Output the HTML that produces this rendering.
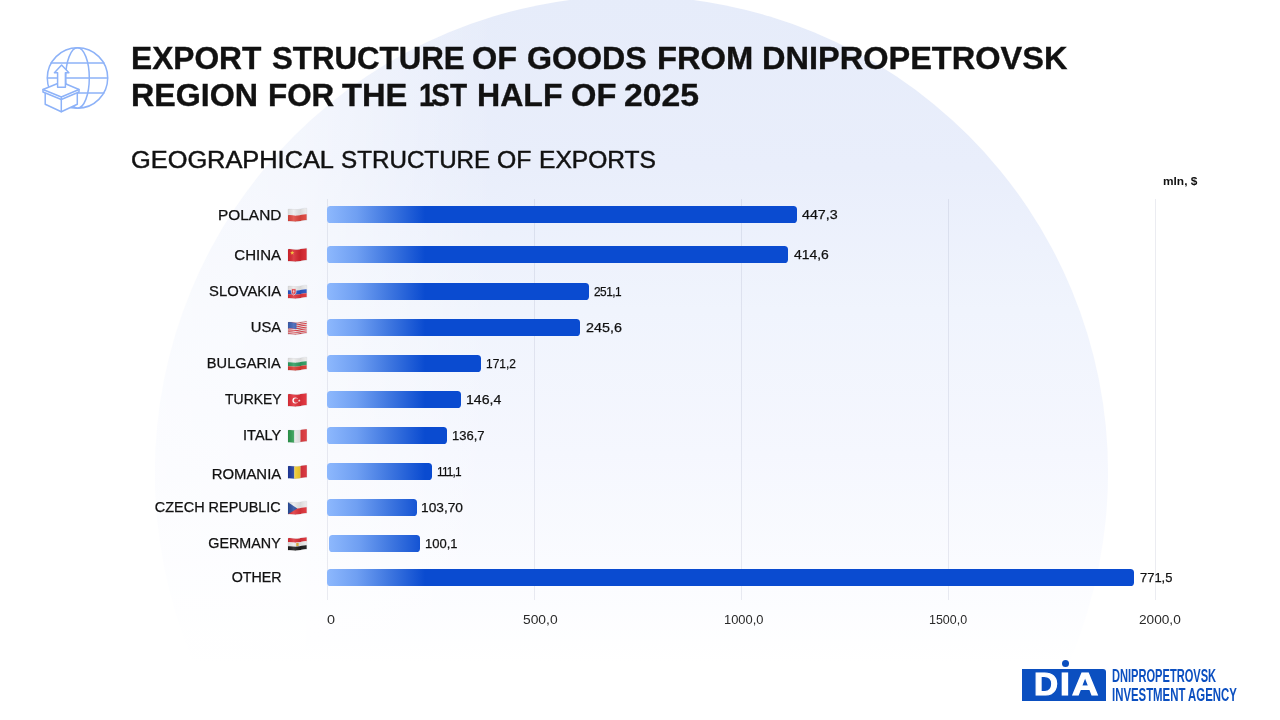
<!DOCTYPE html>
<html lang="en">
<head>
<meta charset="utf-8">
<title>Export structure of goods from Dnipropetrovsk region</title>
<style>
html,body{margin:0;padding:0;}
body{width:1280px;height:720px;position:relative;overflow:hidden;background:#fff;font-family:"Liberation Sans",sans-serif;color:#111;}
.bgcircle{position:absolute;left:154.500px;top:-4.500px;width:953px;height:953px;border-radius:50%;
  background:linear-gradient(90deg,rgba(255,255,255,.62) 0,rgba(255,255,255,.5) 150px,rgba(255,255,255,0) 340px),
  linear-gradient(180deg,#e6ecfa 0%,#e9eefb 18%,#f0f4fd 33%,#f5f7fe 48%,#fbfcff 62%,#ffffff 70%);}
.t{position:absolute;white-space:nowrap;color:#111;}
.grid{position:absolute;top:199px;width:1px;height:401px;background:rgba(120,130,160,.15);}
.bar{position:absolute;height:17.200px;border-radius:3.600px;
  background:linear-gradient(90deg,#8db8fd 0px,#6f9ff2 30px,#3f77e0 62px,#0a4bd0 98px,#0a4bd0 100%);}
.flag{position:absolute;overflow:visible;}
svg.abs{position:absolute;overflow:visible;}
.logo-box{position:absolute;left:1022.200px;top:668.800px;width:83.400px;height:31.800px;background:#0b4fc0;border-radius:0 3px 0 0;}
.logo-dot{position:absolute;left:1061.600px;top:659.800px;width:7.400px;height:7.400px;border-radius:50%;background:#0b4fc0;}
.logo-l{color:#fff;font-weight:700;font-size:30.800px;line-height:32px;-webkit-text-stroke:1.100px #fff;}
</style>
</head>
<body>
<div class="bgcircle"></div>
<svg width="0" height="0" style="position:absolute"><defs>
<linearGradient id="fsh" x1="0" y1="0" x2="1" y2="0"><stop offset="0" stop-color="#000" stop-opacity=".06"/><stop offset=".3" stop-color="#fff" stop-opacity=".12"/><stop offset=".65" stop-color="#000" stop-opacity=".08"/><stop offset="1" stop-color="#fff" stop-opacity=".05"/></linearGradient>
</defs></svg>

<!-- header icon -->
<svg class="abs" style="left:40px;top:44px" width="72" height="72" viewBox="40 44 72 72" fill="none" stroke="#8db2f8" stroke-width="1.500" stroke-linejoin="round" stroke-linecap="round">
<circle cx="77.500" cy="78" r="30.200"/>
<ellipse cx="77.500" cy="78" rx="11.800" ry="30.200"/>
<path d="M51,63.100H104M47.500,78.100H107.500M51,93.100H104"/>
<path d="M45.200,92V104.200L61.300,111.700L77.300,104.200V92Z" fill="#fff"/>
<path d="M61.300,99.500V111.700"/>
<path d="M43,89.500L61.300,82L79,89.500V92L61.300,99.500L43,92Z" fill="#fff"/>
<path d="M43,89.500L61.300,97L79,89.500M61.300,97V99.500"/>
<path d="M57.600,87.300V72.800H54.400L61.600,65.100L68.900,72.800H65.400V87.300Z" fill="#fff"/>
</svg>

<div class="grid" style="left:327px"></div>
<div class="grid" style="left:534px"></div>
<div class="grid" style="left:741px"></div>
<div class="grid" style="left:948px"></div>
<div class="grid" style="left:1155px"></div>
<div class="bar" style="left:326.7px;top:205.9px;width:470.50px"></div>
<div class="bar" style="left:326.7px;top:245.9px;width:461.30px"></div>
<div class="bar" style="left:326.7px;top:282.6px;width:262.05px"></div>
<div class="bar" style="left:326.7px;top:318.65px;width:253.80px"></div>
<div class="bar" style="left:326.7px;top:354.7px;width:154.55px"></div>
<div class="bar" style="left:326.7px;top:390.7px;width:134.55px"></div>
<div class="bar" style="left:326.7px;top:426.7px;width:120.05px"></div>
<div class="bar" style="left:326.7px;top:462.6px;width:105.80px"></div>
<div class="bar" style="left:326.7px;top:498.7px;width:90.00px"></div>
<div class="bar" style="left:328.9px;top:534.8px;width:91.60px"></div>
<div class="bar" style="left:326.7px;top:568.6px;width:807.80px"></div>
<svg class="flag" style="left:287.9px;top:208.0px" width="19" height="14" viewBox="0 0 19 14"><clipPath id="fc0"><path d="M0.00,1.20 C3.00,0.60 6.00,2.00 9.50,1.50 C13.00,1.00 15.50,-0.10 18.80,0.20 L18.80,12.30 C15.50,12.00 13.00,13.10 9.50,13.60 C6.00,14.10 3.00,12.70 0.00,13.30 Z"/></clipPath><g clip-path="url(#fc0)"><path d="M0.00,1.20 C3.00,0.60 6.00,2.00 9.50,1.50 C13.00,1.00 15.50,-0.10 18.80,0.20 L18.80,6.25 C15.50,5.95 13.00,7.05 9.50,7.55 C6.00,8.05 3.00,6.65 0.00,7.25 Z" fill="#ececec"/><path d="M0.00,7.25 C3.00,6.65 6.00,8.05 9.50,7.55 C13.00,7.05 15.50,5.95 18.80,6.25 L18.80,12.30 C15.50,12.00 13.00,13.10 9.50,13.60 C6.00,14.10 3.00,12.70 0.00,13.30 Z" fill="#e0463d"/><rect y="-1" width="19" height="16" fill="url(#fsh)"/></g><path d="M0.00,1.20 C3.00,0.60 6.00,2.00 9.50,1.50 C13.00,1.00 15.50,-0.10 18.80,0.20 L18.80,12.30 C15.50,12.00 13.00,13.10 9.50,13.60 C6.00,14.10 3.00,12.70 0.00,13.30 Z" fill="none" stroke="#000" stroke-opacity=".12" stroke-width=".5"/></svg>
<svg class="flag" style="left:287.9px;top:248.0px" width="19" height="14" viewBox="0 0 19 14"><clipPath id="fc1"><path d="M0.00,1.20 C3.00,0.60 6.00,2.00 9.50,1.50 C13.00,1.00 15.50,-0.10 18.80,0.20 L18.80,12.30 C15.50,12.00 13.00,13.10 9.50,13.60 C6.00,14.10 3.00,12.70 0.00,13.30 Z"/></clipPath><g clip-path="url(#fc1)"><path d="M0.00,1.20 C3.00,0.60 6.00,2.00 9.50,1.50 C13.00,1.00 15.50,-0.10 18.80,0.20 L18.80,12.30 C15.50,12.00 13.00,13.10 9.50,13.60 C6.00,14.10 3.00,12.70 0.00,13.30 Z" fill="#d8262f"/><path d="M4.200,2.600l.55,1.500h1.600l-1.300,1l.5,1.550l-1.350-.95l-1.350,.95l.5-1.550l-1.300-1h1.600z" fill="#f7c531"/><rect y="-1" width="19" height="16" fill="url(#fsh)"/></g><path d="M0.00,1.20 C3.00,0.60 6.00,2.00 9.50,1.50 C13.00,1.00 15.50,-0.10 18.80,0.20 L18.80,12.30 C15.50,12.00 13.00,13.10 9.50,13.60 C6.00,14.10 3.00,12.70 0.00,13.30 Z" fill="none" stroke="#000" stroke-opacity=".12" stroke-width=".5"/></svg>
<svg class="flag" style="left:287.9px;top:284.7px" width="19" height="14" viewBox="0 0 19 14"><clipPath id="fc2"><path d="M0.00,1.20 C3.00,0.60 6.00,2.00 9.50,1.50 C13.00,1.00 15.50,-0.10 18.80,0.20 L18.80,12.30 C15.50,12.00 13.00,13.10 9.50,13.60 C6.00,14.10 3.00,12.70 0.00,13.30 Z"/></clipPath><g clip-path="url(#fc2)"><path d="M0.00,1.20 C3.00,0.60 6.00,2.00 9.50,1.50 C13.00,1.00 15.50,-0.10 18.80,0.20 L18.80,4.31 C15.50,4.01 13.00,5.11 9.50,5.61 C6.00,6.11 3.00,4.71 0.00,5.31 Z" fill="#ececec"/><path d="M0.00,5.31 C3.00,4.71 6.00,6.11 9.50,5.61 C13.00,5.11 15.50,4.01 18.80,4.31 L18.80,8.31 C15.50,8.01 13.00,9.11 9.50,9.61 C6.00,10.11 3.00,8.71 0.00,9.31 Z" fill="#2a56c2"/><path d="M0.00,9.31 C3.00,8.71 6.00,10.11 9.50,9.61 C13.00,9.11 15.50,8.01 18.80,8.31 L18.80,12.30 C15.50,12.00 13.00,13.10 9.50,13.60 C6.00,14.10 3.00,12.70 0.00,13.30 Z" fill="#e0353c"/><path d="M3.400,3.700h4.600v3.600c0,1.700-2.300,2.700-2.300,2.700s-2.300-1-2.300-2.700z" fill="#e0353c" stroke="#f2f2f2" stroke-width=".7"/><path d="M5.700,5v3.600M4.700,6.300h2" stroke="#f2f2f2" stroke-width=".6" fill="none"/><rect y="-1" width="19" height="16" fill="url(#fsh)"/></g><path d="M0.00,1.20 C3.00,0.60 6.00,2.00 9.50,1.50 C13.00,1.00 15.50,-0.10 18.80,0.20 L18.80,12.30 C15.50,12.00 13.00,13.10 9.50,13.60 C6.00,14.10 3.00,12.70 0.00,13.30 Z" fill="none" stroke="#000" stroke-opacity=".12" stroke-width=".5"/></svg>
<svg class="flag" style="left:287.9px;top:320.8px" width="19" height="14" viewBox="0 0 19 14"><clipPath id="fc3"><path d="M0.00,1.20 C3.00,0.60 6.00,2.00 9.50,1.50 C13.00,1.00 15.50,-0.10 18.80,0.20 L18.80,12.30 C15.50,12.00 13.00,13.10 9.50,13.60 C6.00,14.10 3.00,12.70 0.00,13.30 Z"/></clipPath><g clip-path="url(#fc3)"><path d="M0.00,1.20 C3.00,0.60 6.00,2.00 9.50,1.50 C13.00,1.00 15.50,-0.10 18.80,0.20 L18.80,12.30 C15.50,12.00 13.00,13.10 9.50,13.60 C6.00,14.10 3.00,12.70 0.00,13.30 Z" fill="#ececec"/><path d="M0.00,1.20 C3.00,0.60 6.00,2.00 9.50,1.50 C13.00,1.00 15.50,-0.10 18.80,0.20 L18.80,1.13 C15.50,0.83 13.00,1.93 9.50,2.43 C6.00,2.93 3.00,1.53 0.00,2.13 Z" fill="#dc3b45"/><path d="M0.00,3.06 C3.00,2.46 6.00,3.86 9.50,3.36 C13.00,2.86 15.50,1.76 18.80,2.06 L18.80,2.99 C15.50,2.69 13.00,3.79 9.50,4.29 C6.00,4.79 3.00,3.39 0.00,3.99 Z" fill="#dc3b45"/><path d="M0.00,4.92 C3.00,4.32 6.00,5.72 9.50,5.22 C13.00,4.72 15.50,3.62 18.80,3.92 L18.80,4.85 C15.50,4.55 13.00,5.65 9.50,6.15 C6.00,6.65 3.00,5.25 0.00,5.85 Z" fill="#dc3b45"/><path d="M0.00,6.78 C3.00,6.18 6.00,7.58 9.50,7.08 C13.00,6.58 15.50,5.48 18.80,5.78 L18.80,6.72 C15.50,6.42 13.00,7.52 9.50,8.02 C6.00,8.52 3.00,7.12 0.00,7.72 Z" fill="#dc3b45"/><path d="M0.00,8.65 C3.00,8.05 6.00,9.45 9.50,8.95 C13.00,8.45 15.50,7.35 18.80,7.65 L18.80,8.58 C15.50,8.28 13.00,9.38 9.50,9.88 C6.00,10.38 3.00,8.98 0.00,9.58 Z" fill="#dc3b45"/><path d="M0.00,10.51 C3.00,9.91 6.00,11.31 9.50,10.81 C13.00,10.31 15.50,9.21 18.80,9.51 L18.80,10.44 C15.50,10.14 13.00,11.24 9.50,11.74 C6.00,12.24 3.00,10.84 0.00,11.44 Z" fill="#dc3b45"/><path d="M0.00,12.37 C3.00,11.77 6.00,13.17 9.50,12.67 C13.00,12.17 15.50,11.07 18.80,11.37 L18.80,12.30 C15.50,12.00 13.00,13.10 9.50,13.60 C6.00,14.10 3.00,12.70 0.00,13.30 Z" fill="#dc3b45"/><path d="M0,1.200C3,0.600 6,2 8.500,1.650V7.900C6,8.300 3,6.900 0,7.500Z" fill="#3d62b5"/><rect y="-1" width="19" height="16" fill="url(#fsh)"/></g><path d="M0.00,1.20 C3.00,0.60 6.00,2.00 9.50,1.50 C13.00,1.00 15.50,-0.10 18.80,0.20 L18.80,12.30 C15.50,12.00 13.00,13.10 9.50,13.60 C6.00,14.10 3.00,12.70 0.00,13.30 Z" fill="none" stroke="#000" stroke-opacity=".12" stroke-width=".5"/></svg>
<svg class="flag" style="left:287.9px;top:356.8px" width="19" height="14" viewBox="0 0 19 14"><clipPath id="fc4"><path d="M0.00,1.20 C3.00,0.60 6.00,2.00 9.50,1.50 C13.00,1.00 15.50,-0.10 18.80,0.20 L18.80,12.30 C15.50,12.00 13.00,13.10 9.50,13.60 C6.00,14.10 3.00,12.70 0.00,13.30 Z"/></clipPath><g clip-path="url(#fc4)"><path d="M0.00,1.20 C3.00,0.60 6.00,2.00 9.50,1.50 C13.00,1.00 15.50,-0.10 18.80,0.20 L18.80,4.31 C15.50,4.01 13.00,5.11 9.50,5.61 C6.00,6.11 3.00,4.71 0.00,5.31 Z" fill="#ececec"/><path d="M0.00,5.31 C3.00,4.71 6.00,6.11 9.50,5.61 C13.00,5.11 15.50,4.01 18.80,4.31 L18.80,8.31 C15.50,8.01 13.00,9.11 9.50,9.61 C6.00,10.11 3.00,8.71 0.00,9.31 Z" fill="#2f9e62"/><path d="M0.00,9.31 C3.00,8.71 6.00,10.11 9.50,9.61 C13.00,9.11 15.50,8.01 18.80,8.31 L18.80,12.30 C15.50,12.00 13.00,13.10 9.50,13.60 C6.00,14.10 3.00,12.70 0.00,13.30 Z" fill="#dc3a32"/><rect y="-1" width="19" height="16" fill="url(#fsh)"/></g><path d="M0.00,1.20 C3.00,0.60 6.00,2.00 9.50,1.50 C13.00,1.00 15.50,-0.10 18.80,0.20 L18.80,12.30 C15.50,12.00 13.00,13.10 9.50,13.60 C6.00,14.10 3.00,12.70 0.00,13.30 Z" fill="none" stroke="#000" stroke-opacity=".12" stroke-width=".5"/></svg>
<svg class="flag" style="left:287.9px;top:392.8px" width="19" height="14" viewBox="0 0 19 14"><clipPath id="fc5"><path d="M0.00,1.20 C3.00,0.60 6.00,2.00 9.50,1.50 C13.00,1.00 15.50,-0.10 18.80,0.20 L18.80,12.30 C15.50,12.00 13.00,13.10 9.50,13.60 C6.00,14.10 3.00,12.70 0.00,13.30 Z"/></clipPath><g clip-path="url(#fc5)"><path d="M0.00,1.20 C3.00,0.60 6.00,2.00 9.50,1.50 C13.00,1.00 15.50,-0.10 18.80,0.20 L18.80,12.30 C15.50,12.00 13.00,13.10 9.50,13.60 C6.00,14.10 3.00,12.70 0.00,13.30 Z" fill="#e3303a"/><circle cx="7.300" cy="7.500" r="2.900" fill="#fff"/><circle cx="8.100" cy="7.500" r="2.300" fill="#e3303a"/><path d="M11.300,6.200l.4,1h1.050l-.85,.65l.3,1l-.9-.6l-.9,.6l.3-1l-.85-.65h1.050z" fill="#fff"/><rect y="-1" width="19" height="16" fill="url(#fsh)"/></g><path d="M0.00,1.20 C3.00,0.60 6.00,2.00 9.50,1.50 C13.00,1.00 15.50,-0.10 18.80,0.20 L18.80,12.30 C15.50,12.00 13.00,13.10 9.50,13.60 C6.00,14.10 3.00,12.70 0.00,13.30 Z" fill="none" stroke="#000" stroke-opacity=".12" stroke-width=".5"/></svg>
<svg class="flag" style="left:287.9px;top:428.8px" width="19" height="14" viewBox="0 0 19 14"><clipPath id="fc6"><path d="M0.00,1.20 C3.00,0.60 6.00,2.00 9.50,1.50 C13.00,1.00 15.50,-0.10 18.80,0.20 L18.80,12.30 C15.50,12.00 13.00,13.10 9.50,13.60 C6.00,14.10 3.00,12.70 0.00,13.30 Z"/></clipPath><g clip-path="url(#fc6)"><rect y="-1" width="6.400" height="16" fill="#2e9b4f"/><rect x="6.400" y="-1" width="6.100" height="16" fill="#ececec"/><rect x="12.500" y="-1" width="6.500" height="16" fill="#de3a3f"/><rect y="-1" width="19" height="16" fill="url(#fsh)"/></g><path d="M0.00,1.20 C3.00,0.60 6.00,2.00 9.50,1.50 C13.00,1.00 15.50,-0.10 18.80,0.20 L18.80,12.30 C15.50,12.00 13.00,13.10 9.50,13.60 C6.00,14.10 3.00,12.70 0.00,13.30 Z" fill="none" stroke="#000" stroke-opacity=".12" stroke-width=".5"/></svg>
<svg class="flag" style="left:287.9px;top:464.7px" width="19" height="14" viewBox="0 0 19 14"><clipPath id="fc7"><path d="M0.00,1.20 C3.00,0.60 6.00,2.00 9.50,1.50 C13.00,1.00 15.50,-0.10 18.80,0.20 L18.80,12.30 C15.50,12.00 13.00,13.10 9.50,13.60 C6.00,14.10 3.00,12.70 0.00,13.30 Z"/></clipPath><g clip-path="url(#fc7)"><rect y="-1" width="6.400" height="16" fill="#1f3a9e"/><rect x="6.400" y="-1" width="6.100" height="16" fill="#f7cf2f"/><rect x="12.500" y="-1" width="6.500" height="16" fill="#d9303a"/><rect y="-1" width="19" height="16" fill="url(#fsh)"/></g><path d="M0.00,1.20 C3.00,0.60 6.00,2.00 9.50,1.50 C13.00,1.00 15.50,-0.10 18.80,0.20 L18.80,12.30 C15.50,12.00 13.00,13.10 9.50,13.60 C6.00,14.10 3.00,12.70 0.00,13.30 Z" fill="none" stroke="#000" stroke-opacity=".12" stroke-width=".5"/></svg>
<svg class="flag" style="left:287.9px;top:500.8px" width="19" height="14" viewBox="0 0 19 14"><clipPath id="fc8"><path d="M0.00,1.20 C3.00,0.60 6.00,2.00 9.50,1.50 C13.00,1.00 15.50,-0.10 18.80,0.20 L18.80,12.30 C15.50,12.00 13.00,13.10 9.50,13.60 C6.00,14.10 3.00,12.70 0.00,13.30 Z"/></clipPath><g clip-path="url(#fc8)"><path d="M0.00,1.20 C3.00,0.60 6.00,2.00 9.50,1.50 C13.00,1.00 15.50,-0.10 18.80,0.20 L18.80,6.25 C15.50,5.95 13.00,7.05 9.50,7.55 C6.00,8.05 3.00,6.65 0.00,7.25 Z" fill="#ececec"/><path d="M0.00,7.25 C3.00,6.65 6.00,8.05 9.50,7.55 C13.00,7.05 15.50,5.95 18.80,6.25 L18.80,12.30 C15.50,12.00 13.00,13.10 9.50,13.60 C6.00,14.10 3.00,12.70 0.00,13.30 Z" fill="#e0353c"/><path d="M0,1.200L9.300,7.500L0,13.300z" fill="#2b4f9e"/><rect y="-1" width="19" height="16" fill="url(#fsh)"/></g><path d="M0.00,1.20 C3.00,0.60 6.00,2.00 9.50,1.50 C13.00,1.00 15.50,-0.10 18.80,0.20 L18.80,12.30 C15.50,12.00 13.00,13.10 9.50,13.60 C6.00,14.10 3.00,12.70 0.00,13.30 Z" fill="none" stroke="#000" stroke-opacity=".12" stroke-width=".5"/></svg>
<svg class="flag" style="left:287.9px;top:536.9px" width="19" height="14" viewBox="0 0 19 14"><clipPath id="fc9"><path d="M0.00,1.20 C3.00,0.60 6.00,2.00 9.50,1.50 C13.00,1.00 15.50,-0.10 18.80,0.20 L18.80,12.30 C15.50,12.00 13.00,13.10 9.50,13.60 C6.00,14.10 3.00,12.70 0.00,13.30 Z"/></clipPath><g clip-path="url(#fc9)"><path d="M0.00,1.20 C3.00,0.60 6.00,2.00 9.50,1.50 C13.00,1.00 15.50,-0.10 18.80,0.20 L18.80,4.31 C15.50,4.01 13.00,5.11 9.50,5.61 C6.00,6.11 3.00,4.71 0.00,5.31 Z" fill="#dc3038"/><path d="M0.00,5.31 C3.00,4.71 6.00,6.11 9.50,5.61 C13.00,5.11 15.50,4.01 18.80,4.31 L18.80,8.31 C15.50,8.01 13.00,9.11 9.50,9.61 C6.00,10.11 3.00,8.71 0.00,9.31 Z" fill="#ececec"/><path d="M0.00,9.31 C3.00,8.71 6.00,10.11 9.50,9.61 C13.00,9.11 15.50,8.01 18.80,8.31 L18.80,12.30 C15.50,12.00 13.00,13.10 9.50,13.60 C6.00,14.10 3.00,12.70 0.00,13.30 Z" fill="#1c1c1c"/><rect x="8.200" y="5.900" width="2.400" height="3" rx=".5" fill="#e0b23a"/><rect y="-1" width="19" height="16" fill="url(#fsh)"/></g><path d="M0.00,1.20 C3.00,0.60 6.00,2.00 9.50,1.50 C13.00,1.00 15.50,-0.10 18.80,0.20 L18.80,12.30 C15.50,12.00 13.00,13.10 9.50,13.60 C6.00,14.10 3.00,12.70 0.00,13.30 Z" fill="none" stroke="#000" stroke-opacity=".12" stroke-width=".5"/></svg>
<div class="t title" style="top:43.38px;font-size:30.55px;line-height:30.55px;font-weight:700;-webkit-text-stroke:0.35px #111;left:131.39px;transform-origin:0 0;transform:scaleX(1.0381);">EXPORT</div>
<div class="t title" style="top:43.38px;font-size:30.55px;line-height:30.55px;font-weight:700;-webkit-text-stroke:0.35px #111;left:271.58px;transform-origin:0 0;transform:scaleX(1.0223);">STRUCTURE</div>
<div class="t title" style="top:43.38px;font-size:30.55px;line-height:30.55px;font-weight:700;-webkit-text-stroke:0.35px #111;left:472.46px;transform-origin:0 0;transform:scaleX(1.0613);">OF</div>
<div class="t title" style="top:43.38px;font-size:30.55px;line-height:30.55px;font-weight:700;-webkit-text-stroke:0.35px #111;left:527.28px;transform-origin:0 0;transform:scaleX(1.0539);">GOODS</div>
<div class="t title" style="top:43.38px;font-size:30.55px;line-height:30.55px;font-weight:700;-webkit-text-stroke:0.35px #111;left:657.05px;transform-origin:0 0;transform:scaleX(1.0712);">FROM</div>
<div class="t title" style="top:43.38px;font-size:30.55px;line-height:30.55px;font-weight:700;-webkit-text-stroke:0.35px #111;left:762.05px;transform-origin:0 0;transform:scaleX(1.0646);">DNIPROPETROVSK</div>
<div class="t title" style="top:80.38px;font-size:30.55px;line-height:30.55px;font-weight:700;-webkit-text-stroke:0.35px #111;left:131.36px;transform-origin:0 0;transform:scaleX(1.0540);">REGION</div>
<div class="t title" style="top:80.38px;font-size:30.55px;line-height:30.55px;font-weight:700;-webkit-text-stroke:0.35px #111;left:267.86px;transform-origin:0 0;transform:scaleX(1.0272);">FOR</div>
<div class="t title" style="top:80.38px;font-size:30.55px;line-height:30.55px;font-weight:700;-webkit-text-stroke:0.35px #111;left:342.22px;transform-origin:0 0;transform:scaleX(1.0693);">THE</div>
<div class="t title" style="top:80.38px;font-size:30.55px;line-height:30.55px;font-weight:700;-webkit-text-stroke:0.35px #111;left:418.64px;transform-origin:0 0;transform:scaleX(0.9156);"><span style="margin-right:-3.5px">1</span>ST</div>
<div class="t title" style="top:80.38px;font-size:30.55px;line-height:30.55px;font-weight:700;-webkit-text-stroke:0.35px #111;left:476.52px;transform-origin:0 0;transform:scaleX(1.0511);">HALF</div>
<div class="t title" style="top:80.38px;font-size:30.55px;line-height:30.55px;font-weight:700;-webkit-text-stroke:0.35px #111;left:571.05px;transform-origin:0 0;transform:scaleX(1.0687);">OF</div>
<div class="t title" style="top:80.38px;font-size:30.55px;line-height:30.55px;font-weight:700;-webkit-text-stroke:0.35px #111;left:624.25px;transform-origin:0 0;transform:scaleX(1.1049);">2025</div>
<div class="t subtitle" style="top:148.69px;font-size:23.10px;line-height:23.10px;-webkit-text-stroke:0.45px #111;left:130.61px;transform-origin:0 0;transform:scaleX(1.0984);">GEOGRAPHICAL</div>
<div class="t subtitle" style="top:148.69px;font-size:23.10px;line-height:23.10px;-webkit-text-stroke:0.45px #111;left:340.82px;transform-origin:0 0;transform:scaleX(1.0480);">STRUCTURE</div>
<div class="t subtitle" style="top:148.69px;font-size:23.10px;line-height:23.10px;-webkit-text-stroke:0.45px #111;left:496.67px;transform-origin:0 0;transform:scaleX(1.0715);">OF</div>
<div class="t subtitle" style="top:148.69px;font-size:23.10px;line-height:23.10px;-webkit-text-stroke:0.45px #111;left:538.70px;transform-origin:0 0;transform:scaleX(1.0641);">EXPORTS</div>
<div class="t unit" style="top:176.43px;font-size:11.30px;line-height:11.30px;font-weight:700;left:1162.54px;transform-origin:0 0;transform:scaleX(1.0520);">mln, $</div>
<div class="t lbl" style="top:207.68px;font-size:14.20px;line-height:14.20px;-webkit-text-stroke:0.25px #111;right:998.62px;transform-origin:100% 0;transform:scaleX(1.0841);">POLAND</div>
<div class="t val" style="top:207.77px;font-size:13.50px;line-height:13.50px;-webkit-text-stroke:0.25px #111;left:802.49px;transform-origin:0 0;transform:scaleX(1.0563);">447,3</div>
<div class="t lbl" style="top:247.68px;font-size:14.20px;line-height:14.20px;-webkit-text-stroke:0.25px #111;right:998.74px;transform-origin:100% 0;transform:scaleX(1.0607);">CHINA</div>
<div class="t val" style="top:247.77px;font-size:13.50px;line-height:13.50px;-webkit-text-stroke:0.25px #111;left:793.50px;transform-origin:0 0;transform:scaleX(1.0304);">414,6</div>
<div class="t lbl" style="top:284.18px;font-size:14.20px;line-height:14.20px;-webkit-text-stroke:0.25px #111;right:998.80px;transform-origin:100% 0;transform:scaleX(1.0424);">SLOVAKIA</div>
<div class="t val" style="top:285.47px;font-size:13.50px;line-height:13.50px;letter-spacing:-0.58px;-webkit-text-stroke:0.25px #111;left:593.97px;transform-origin:0 0;transform:scaleX(0.8800);">251,1</div>
<div class="t lbl" style="top:320.18px;font-size:14.20px;line-height:14.20px;-webkit-text-stroke:0.25px #111;right:998.83px;transform-origin:100% 0;transform:scaleX(1.0415);">USA</div>
<div class="t val" style="top:320.52px;font-size:13.50px;line-height:13.50px;-webkit-text-stroke:0.25px #111;left:586.42px;transform-origin:0 0;transform:scaleX(1.0614);">245,6</div>
<div class="t lbl" style="top:356.18px;font-size:14.20px;line-height:14.20px;-webkit-text-stroke:0.25px #111;right:999.27px;transform-origin:100% 0;transform:scaleX(1.0301);">BULGARIA</div>
<div class="t val" style="top:356.57px;font-size:13.50px;line-height:13.50px;-webkit-text-stroke:0.25px #111;left:485.99px;transform-origin:0 0;transform:scaleX(0.8843);">171,2</div>
<div class="t lbl" style="top:392.18px;font-size:14.20px;line-height:14.20px;-webkit-text-stroke:0.25px #111;right:998.72px;transform-origin:100% 0;transform:scaleX(0.9811);">TURKEY</div>
<div class="t val" style="top:392.57px;font-size:13.50px;line-height:13.50px;-webkit-text-stroke:0.25px #111;left:465.89px;transform-origin:0 0;transform:scaleX(1.0471);">146,4</div>
<div class="t lbl" style="top:428.18px;font-size:14.20px;line-height:14.20px;-webkit-text-stroke:0.25px #111;right:998.53px;transform-origin:100% 0;transform:scaleX(1.0247);">ITALY</div>
<div class="t val" style="top:428.57px;font-size:13.50px;line-height:13.50px;-webkit-text-stroke:0.25px #111;left:451.82px;transform-origin:0 0;transform:scaleX(0.9633);">136,7</div>
<div class="t lbl" style="top:466.88px;font-size:14.20px;line-height:14.20px;-webkit-text-stroke:0.25px #111;right:998.86px;transform-origin:100% 0;transform:scaleX(1.0506);">ROMANIA</div>
<div class="t val" style="top:465.47px;font-size:13.50px;line-height:13.50px;letter-spacing:-0.96px;-webkit-text-stroke:0.25px #111;left:436.99px;transform-origin:0 0;transform:scaleX(0.8800);">111,1</div>
<div class="t lbl" style="top:500.18px;font-size:14.20px;line-height:14.20px;-webkit-text-stroke:0.25px #111;right:998.85px;transform-origin:100% 0;transform:scaleX(1.0172);">CZECH REPUBLIC</div>
<div class="t val" style="top:500.57px;font-size:13.50px;line-height:13.50px;-webkit-text-stroke:0.25px #111;left:420.90px;transform-origin:0 0;transform:scaleX(1.0165);">103,70</div>
<div class="t lbl" style="top:536.28px;font-size:14.20px;line-height:14.20px;-webkit-text-stroke:0.25px #111;right:998.82px;transform-origin:100% 0;transform:scaleX(1.0095);">GERMANY</div>
<div class="t val" style="top:536.67px;font-size:13.50px;line-height:13.50px;-webkit-text-stroke:0.25px #111;left:424.99px;transform-origin:0 0;transform:scaleX(0.9609);">100,1</div>
<div class="t lbl" style="top:570.18px;font-size:14.20px;line-height:14.20px;-webkit-text-stroke:0.25px #111;right:998.39px;transform-origin:100% 0;transform:scaleX(1.0056);">OTHER</div>
<div class="t val" style="top:571.47px;font-size:13.50px;line-height:13.50px;-webkit-text-stroke:0.25px #111;left:1139.92px;transform-origin:0 0;transform:scaleX(0.9577);">771,5</div>
<div class="t tick" style="top:613.63px;font-size:12.60px;line-height:12.60px;color:#2a2a2a;left:326.59px;transform-origin:0 0;transform:scaleX(1.1414);">0</div>
<div class="t tick" style="top:613.63px;font-size:12.60px;line-height:12.60px;color:#2a2a2a;left:522.86px;transform-origin:0 0;transform:scaleX(1.0972);">500,0</div>
<div class="t tick" style="top:613.63px;font-size:12.60px;line-height:12.60px;color:#2a2a2a;left:724.00px;transform-origin:0 0;transform:scaleX(1.0225);">1000,0</div>
<div class="t tick" style="top:613.63px;font-size:12.60px;line-height:12.60px;color:#2a2a2a;left:929.37px;transform-origin:0 0;transform:scaleX(0.9895);">1500,0</div>
<div class="t tick" style="top:613.63px;font-size:12.60px;line-height:12.60px;color:#2a2a2a;left:1139.07px;transform-origin:0 0;transform:scaleX(1.0840);">2000,0</div>
<div class="t logo-t" style="top:668.00px;font-size:17.60px;line-height:17.60px;font-weight:700;color:#0b4fc0;left:1111.50px;transform-origin:0 0;transform:scaleX(0.6299);">DNIPROPETROVSK</div>
<div class="t logo-t" style="top:686.70px;font-size:17.60px;line-height:17.60px;font-weight:700;color:#0b4fc0;left:1111.50px;transform-origin:0 0;transform:scaleX(0.6470);">INVESTMENT AGENCY</div>

<!-- logo -->
<div class="logo-box"></div>
<div class="logo-dot"></div>
<div class="t logo-l" style="left:1033.600px;top:668.500px;transform:scaleX(1.08);transform-origin:0 0">D</div>
<div class="t logo-l" style="left:1060.100px;top:668.500px;transform:scaleX(1.15);transform-origin:0 0">I</div>
<div class="t logo-l" style="left:1071.600px;top:668.500px;transform:scaleX(1.18);transform-origin:0 0">A</div>
</body>
</html>
